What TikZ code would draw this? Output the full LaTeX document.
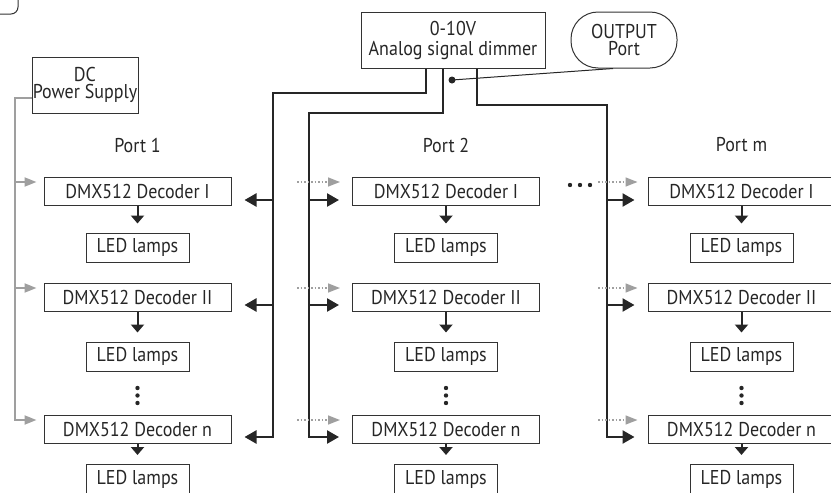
\documentclass[tikz,border=0pt]{standalone}
\usepackage{fontspec}
\setmainfont[FakeStretch=0.9]{PT Sans}
\usetikzlibrary{positioning, arrows.meta}
\tikzset{
  box/.style={rectangle, draw=black!80, line width=1pt, inner sep=0pt, align=center, text=black!85},
  decoder/.style={box, minimum width=187pt, minimum height=28pt},
  lamp/.style={box, minimum width=103pt, minimum height=29pt},
  bus/.style={line width=2.4pt, black!85},
  tap/.style={bus, -{Triangle[length=12pt,width=13pt]}, shorten >=13pt},
  down/.style={line width=2pt, black!85, -{Triangle[length=8pt,width=13pt]}, shorten >=9pt},
  power/.style={line width=2pt, gray!75, -{Triangle[length=12pt,width=9pt]}, shorten >=7pt},
  spare/.style={power, line width=1.5pt, dotted, shorten >=12pt}
}
\begin{document}
\begin{tikzpicture}[x=1pt, y=-1pt, font=\fontsize{20}{20}\selectfont]
\useasboundingbox (0,0) rectangle (831,493);

% Cut-off tag in the corner
\draw[line width=1pt, black!80, rounded corners=7pt] (-20,14) -- (18,14) -- (18,-20);

% Sources
\node[box, minimum width=106pt, minimum height=56pt] (psu) at (85,85) {DC\\[-3pt]Power Supply};
\node[box, minimum width=184pt, minimum height=56pt] (dimmer) at (453,40) {0-10V\\Analog signal dimmer};
\node[box, rounded corners=27pt, minimum width=106pt, minimum height=56pt] (outport) at (624,40) {OUTPUT\\[-3pt]Port};

% Port labels
\node[text=black!85] (port1) at (137.5,145) {Port 1};
\node[text=black!85] (port2) at (446,145) {Port 2};
\node[text=black!85] (portm) at (741.5,145) {Port m};

% Port 1
\node[decoder] (dec1i) at (137.5,191) {DMX512 Decoder I};
\node[lamp] (lamp1i) at (137.5,247.5) {LED lamps};
\node[decoder] (dec1ii) at (137.5,297.5) {DMX512 Decoder II};
\node[lamp] (lamp1ii) at (137.5,356.5) {LED lamps};
\node[decoder] (dec1n) at (137.5,429) {DMX512 Decoder n};
\node[lamp] (lamp1n) at (137.5,479) {LED lamps};

% Port 2
\node[decoder] (dec2i) at (446,191) {DMX512 Decoder I};
\node[lamp] (lamp2i) at (446,247.5) {LED lamps};
\node[decoder] (dec2ii) at (446,297.5) {DMX512 Decoder II};
\node[lamp] (lamp2ii) at (446,356.5) {LED lamps};
\node[decoder] (dec2n) at (446,429) {DMX512 Decoder n};
\node[lamp] (lamp2n) at (446,479) {LED lamps};

% Port m
\node[decoder] (decmi) at (741.5,191) {DMX512 Decoder I};
\node[lamp] (lampmi) at (741.5,247.5) {LED lamps};
\node[decoder] (decmii) at (741.5,297.5) {DMX512 Decoder II};
\node[lamp] (lampmii) at (741.5,356.5) {LED lamps};
\node[decoder] (decmn) at (741.5,429) {DMX512 Decoder n};
\node[lamp] (lampmn) at (741.5,479) {LED lamps};

% Decoder to lamps
\draw[down] (dec1i) -- (lamp1i);
\draw[down] (dec1ii) -- (lamp1ii);
\draw[down] (dec1n) -- (lamp1n);
\draw[down] (dec2i) -- (lamp2i);
\draw[down] (dec2ii) -- (lamp2ii);
\draw[down] (dec2n) -- (lamp2n);
\draw[down] (decmi) -- (lampmi);
\draw[down] (decmii) -- (lampmii);
\draw[down] (decmn) -- (lampmn);

% Dots
\foreach \x in {137.5,446,741.5}
  \foreach \y in {388,395.5,403}
    \fill[black!85] (\x,\y) circle (2.2pt);
\foreach \x in {570,580,590}
  \fill[black!85] (\x,185) circle (2.2pt);

% Bus points
\coordinate (aTop) at (273,93);
\coordinate (a1) at (273,200);
\coordinate (a2) at (273,305);
\coordinate (a3) at (273,437);
\coordinate (bTop) at (309,113);
\coordinate (b1) at (309,200);
\coordinate (b2) at (309,305);
\coordinate (b3) at (309,437);
\coordinate (cTop) at (607,105);
\coordinate (c1) at (607,200);
\coordinate (c2) at (607,305);
\coordinate (c3) at (607,437);

% Port 1 bus
\draw[tap] ([xshift=-27pt]dimmer.south) |- (aTop) -- (a3) -- (a3 -| dec1n.east);
\draw[tap] (a1) -- (a1 -| dec1i.east);
\draw[tap] (a2) -- (a2 -| dec1ii.east);

% Port 2 bus
\draw[tap] ([xshift=-10pt]dimmer.south) |- (bTop) -- (b3) -- (b3 -| dec2n.west);
\draw[tap] (b1) -- (b1 -| dec2i.west);
\draw[tap] (b2) -- (b2 -| dec2ii.west);

% Port m bus
\draw[tap] ([xshift=24pt]dimmer.south) |- (cTop) -- (c3) -- (c3 -| decmn.west);
\draw[tap] (c1) -- (c1 -| decmi.west);
\draw[tap] (c2) -- (c2 -| decmii.west);

% Output port
\coordinate (probe) at (452,80);
\fill[black!85] (probe) circle (3.5pt);
\draw[line width=1pt, black!85] (probe) -- ([xshift=-11pt]outport.south);

% Power supply
\coordinate (pTop) at (15,98);
\coordinate (p1) at (15,182);
\coordinate (p2) at (15,288);
\coordinate (p3) at (15,420);
\draw[power] (pTop -| psu.west) -- (pTop) -- (p3) -- (p3 -| dec1n.west);
\draw[power] (p1) -- (p1 -| dec1i.west);
\draw[power] (p2) -- (p2 -| dec1ii.west);

% Power to further ports
\coordinate (q1) at (297,182);
\coordinate (q2) at (297,288);
\coordinate (q3) at (297,420);
\coordinate (r1) at (598,182);
\coordinate (r2) at (598,288);
\coordinate (r3) at (598,420);
\draw[spare] (q1) -- (q1 -| dec2i.west);
\draw[spare] (q2) -- (q2 -| dec2ii.west);
\draw[spare] (q3) -- (q3 -| dec2n.west);
\draw[spare, shorten >=10pt] (r1) -- (r1 -| decmi.west);
\draw[spare, shorten >=10pt] (r2) -- (r2 -| decmii.west);
\draw[spare, shorten >=10pt] (r3) -- (r3 -| decmn.west);

\end{tikzpicture}
\end{document}
